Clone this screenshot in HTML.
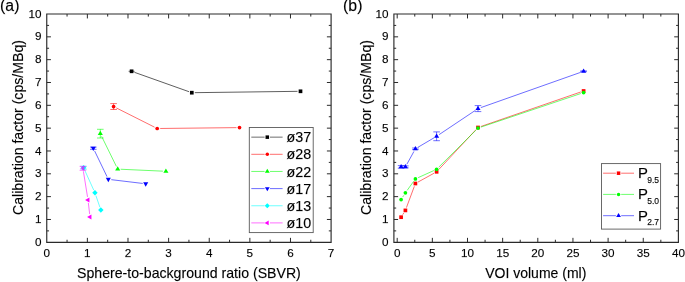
<!DOCTYPE html>
<html lang="en"><head><meta charset="utf-8"><title>Calibration factor</title>
<style>
html,body{margin:0;padding:0;background:#fff}
body{width:685px;height:282px;overflow:hidden}
svg{display:block}
text{font-family:"Liberation Sans", Arial, Helvetica, sans-serif;fill:#000;stroke:#000;stroke-width:0.25px;stroke-opacity:0.5}
.tk{font-size:11.7px}
.lb{font-size:14.13px}
.pn{font-size:15.8px}
.lg{font-size:14.3px}
.lgp{font-size:14.9px}
.sub{font-size:8.5px}
</style></head><body>
<svg width="685" height="282" viewBox="0 0 685 282">
<rect width="685" height="282" fill="#fff"/>
<g id="panel-a">
<text x="0.1" y="11.1" class="pn">(a)</text>
<path d="M46.75 14.0H331.1V242.3H46.75Z" fill="none" stroke="#2a2a2a" stroke-width="1.15" stroke-linejoin="miter"/>
<path d="M87.37 242.3v-4.45M87.37 14.0v4.45M127.99 242.3v-4.45M127.99 14.0v4.45M168.61 242.3v-4.45M168.61 14.0v4.45M209.24 242.3v-4.45M209.24 14.0v4.45M249.86 242.3v-4.45M249.86 14.0v4.45M290.48 242.3v-4.45M290.48 14.0v4.45M67.06 242.3v-2.55M67.06 14.0v2.55M107.68 242.3v-2.55M107.68 14.0v2.55M148.30 242.3v-2.55M148.30 14.0v2.55M188.93 242.3v-2.55M188.93 14.0v2.55M229.55 242.3v-2.55M229.55 14.0v2.55M270.17 242.3v-2.55M270.17 14.0v2.55M310.79 242.3v-2.55M310.79 14.0v2.55M46.75 219.47h4.2M331.1 219.47h-4.2M46.75 196.64h4.2M331.1 196.64h-4.2M46.75 173.81h4.2M331.1 173.81h-4.2M46.75 150.98h4.2M331.1 150.98h-4.2M46.75 128.15h4.2M331.1 128.15h-4.2M46.75 105.32h4.2M331.1 105.32h-4.2M46.75 82.49h4.2M331.1 82.49h-4.2M46.75 59.66h4.2M331.1 59.66h-4.2M46.75 36.83h4.2M331.1 36.83h-4.2M46.75 230.89h2.3M331.1 230.89h-2.3M46.75 208.06h2.3M331.1 208.06h-2.3M46.75 185.23h2.3M331.1 185.23h-2.3M46.75 162.40h2.3M331.1 162.40h-2.3M46.75 139.56h2.3M331.1 139.56h-2.3M46.75 116.73h2.3M331.1 116.73h-2.3M46.75 93.91h2.3M331.1 93.91h-2.3M46.75 71.07h2.3M331.1 71.07h-2.3M46.75 48.25h2.3M331.1 48.25h-2.3M46.75 25.41h2.3M331.1 25.41h-2.3" fill="none" stroke="#2a2a2a" stroke-width="1"/>
<text x="46.75" y="256.75" text-anchor="middle" class="tk">0</text>
<text x="87.37" y="256.75" text-anchor="middle" class="tk">1</text>
<text x="127.99" y="256.75" text-anchor="middle" class="tk">2</text>
<text x="168.61" y="256.75" text-anchor="middle" class="tk">3</text>
<text x="209.24" y="256.75" text-anchor="middle" class="tk">4</text>
<text x="249.86" y="256.75" text-anchor="middle" class="tk">5</text>
<text x="290.48" y="256.75" text-anchor="middle" class="tk">6</text>
<text x="331.10" y="256.75" text-anchor="middle" class="tk">7</text>
<text x="41.50" y="245.95" text-anchor="end" class="tk">0</text>
<text x="41.50" y="223.12" text-anchor="end" class="tk">1</text>
<text x="41.50" y="200.29" text-anchor="end" class="tk">2</text>
<text x="41.50" y="177.46" text-anchor="end" class="tk">3</text>
<text x="41.50" y="154.63" text-anchor="end" class="tk">4</text>
<text x="41.50" y="131.80" text-anchor="end" class="tk">5</text>
<text x="41.50" y="108.97" text-anchor="end" class="tk">6</text>
<text x="41.50" y="86.14" text-anchor="end" class="tk">7</text>
<text x="41.50" y="63.31" text-anchor="end" class="tk">8</text>
<text x="41.50" y="40.48" text-anchor="end" class="tk">9</text>
<text x="41.50" y="17.65" text-anchor="end" class="tk">10</text>
<text transform="translate(23.2,127.5) rotate(-90)" text-anchor="middle" class="lb">Calibration factor (cps/MBq)</text>
<text x="188.93" y="278.3" text-anchor="middle" class="lb">Sphere-to-background ratio (SBVR)</text>
<path d="M134.43 72.30L188.97 91.70M194.80 92.66L297.50 91.34" fill="none" stroke="#000" stroke-width="0.85" stroke-opacity="0.75"/>
<path d="M128.60 71.30H134.60" fill="none" stroke="#000" stroke-width="0.75" stroke-opacity="0.75"/>
<rect x="129.75" y="69.45" width="3.70" height="3.70" fill="#000"/>
<rect x="189.95" y="90.85" width="3.70" height="3.70" fill="#000"/>
<rect x="298.65" y="89.45" width="3.70" height="3.70" fill="#000"/>
<path d="M116.28 107.90L154.52 127.15M160.20 128.47L236.50 127.63" fill="none" stroke="#ff0000" stroke-width="0.85" stroke-opacity="0.68"/>
<path d="M113.60 103.60V109.50M110.30 103.60h6.6M110.30 109.50h6.6" fill="none" stroke="#ff0000" stroke-width="0.75" stroke-opacity="0.75"/>
<circle cx="113.60" cy="106.55" r="1.85" fill="#ff0000"/>
<circle cx="157.20" cy="128.50" r="1.85" fill="#ff0000"/>
<circle cx="239.50" cy="127.60" r="1.85" fill="#ff0000"/>
<path d="M101.62 136.34L116.38 166.41M120.70 169.24L162.90 171.16" fill="none" stroke="#00ff00" stroke-width="0.85" stroke-opacity="0.68"/>
<path d="M100.30 129.30V138.00M97.00 129.30h6.6M97.00 138.00h6.6" fill="none" stroke="#00ff00" stroke-width="0.75" stroke-opacity="0.75"/>
<path d="M100.30 130.75L102.82 135.10H97.78Z" fill="#00ff00"/>
<path d="M117.70 166.20L120.22 170.55H115.18Z" fill="#00ff00"/>
<path d="M165.90 168.40L168.42 172.75H163.38Z" fill="#00ff00"/>
<path d="M94.60 150.90L107.00 176.60M111.28 179.66L142.72 183.44" fill="none" stroke="#0000ff" stroke-width="0.85" stroke-opacity="0.68"/>
<path d="M93.30 147.10V149.30M90.00 147.10h6.6M90.00 149.30h6.6" fill="none" stroke="#0000ff" stroke-width="0.75" stroke-opacity="0.75"/>
<path d="M93.30 151.10L95.82 146.75H90.78Z" fill="#0000ff"/>
<path d="M108.30 182.20L110.82 177.85H105.78Z" fill="#0000ff"/>
<path d="M145.70 186.70L148.22 182.35H143.18Z" fill="#0000ff"/>
<path d="M84.84 170.43L93.71 190.07M95.92 195.64L99.88 207.21" fill="none" stroke="#00ffff" stroke-width="0.85" stroke-opacity="0.68"/>
<path d="M83.60 166.30V169.10M80.30 166.30h6.6M80.30 169.10h6.6" fill="none" stroke="#00ffff" stroke-width="0.75" stroke-opacity="0.75"/>
<path d="M83.60 165.00L86.30 167.70L83.60 170.40L80.90 167.70Z" fill="#00ffff"/>
<path d="M94.95 190.10L97.65 192.80L94.95 195.50L92.25 192.80Z" fill="#00ffff"/>
<path d="M100.85 207.35L103.55 210.05L100.85 212.75L98.15 210.05Z" fill="#00ffff"/>
<path d="M83.38 171.26L87.52 196.94M88.35 202.88L89.65 214.02" fill="none" stroke="#ff00ff" stroke-width="0.85" stroke-opacity="0.68"/>
<path d="M82.90 166.35V170.25M79.60 166.35h6.6M79.60 170.25h6.6" fill="none" stroke="#ff00ff" stroke-width="0.75" stroke-opacity="0.75"/>
<path d="M80.00 168.30L84.35 165.78V170.82Z" fill="#ff00ff" fill-opacity="0.6"/>
<path d="M85.10 199.90L89.45 197.38V202.42Z" fill="#ff00ff"/>
<path d="M87.10 217.00L91.45 214.48V219.52Z" fill="#ff00ff"/>
<rect x="249.3" y="127.5" width="63.90" height="105.10" fill="#fff" stroke="#5a5a5a" stroke-width="0.9"/>
<path d="M251.3 137.15H264.6M270 137.15H282.6" stroke="#000" stroke-width="0.85" stroke-opacity="0.68" fill="none"/>
<rect x="265.54" y="135.39" width="3.52" height="3.52" fill="#000"/>
<text x="286.6" y="142.25" class="lg">ø37</text>
<path d="M251.3 154.30H264.6M270 154.30H282.6" stroke="#ff0000" stroke-width="0.85" stroke-opacity="0.68" fill="none"/>
<circle cx="267.30" cy="154.30" r="1.76" fill="#ff0000"/>
<text x="286.6" y="159.40" class="lg">ø28</text>
<path d="M251.3 171.45H264.6M270 171.45H282.6" stroke="#00ff00" stroke-width="0.85" stroke-opacity="0.68" fill="none"/>
<path d="M267.30 168.69L269.70 172.83H264.90Z" fill="#00ff00"/>
<text x="286.6" y="176.55" class="lg">ø22</text>
<path d="M251.3 188.60H264.6M270 188.60H282.6" stroke="#0000ff" stroke-width="0.85" stroke-opacity="0.68" fill="none"/>
<path d="M267.30 191.35L269.70 187.22H264.90Z" fill="#0000ff"/>
<text x="286.6" y="193.70" class="lg">ø17</text>
<path d="M251.3 205.75H264.6M270 205.75H282.6" stroke="#00ffff" stroke-width="0.85" stroke-opacity="0.68" fill="none"/>
<path d="M267.30 203.19L269.87 205.75L267.30 208.31L264.74 205.75Z" fill="#00ffff"/>
<text x="286.6" y="210.85" class="lg">ø13</text>
<path d="M251.3 222.90H264.6M270 222.90H282.6" stroke="#ff00ff" stroke-width="0.85" stroke-opacity="0.68" fill="none"/>
<path d="M264.55 222.90L268.68 220.50V225.30Z" fill="#ff00ff"/>
<text x="286.6" y="228.00" class="lg">ø10</text>
</g>
<g id="panel-b">
<text x="343.1" y="11.2" class="pn">(b)</text>
<path d="M393.9 14.0H678.4V242.3H393.9Z" fill="none" stroke="#2a2a2a" stroke-width="1.15" stroke-linejoin="miter"/>
<path d="M397.20 242.3v-4.45M397.20 14.0v4.45M432.35 242.3v-4.45M432.35 14.0v4.45M467.50 242.3v-4.45M467.50 14.0v4.45M502.65 242.3v-4.45M502.65 14.0v4.45M537.80 242.3v-4.45M537.80 14.0v4.45M572.95 242.3v-4.45M572.95 14.0v4.45M608.10 242.3v-4.45M608.10 14.0v4.45M643.25 242.3v-4.45M643.25 14.0v4.45M414.77 242.3v-2.55M414.77 14.0v2.55M449.93 242.3v-2.55M449.93 14.0v2.55M485.07 242.3v-2.55M485.07 14.0v2.55M520.23 242.3v-2.55M520.23 14.0v2.55M555.38 242.3v-2.55M555.38 14.0v2.55M590.52 242.3v-2.55M590.52 14.0v2.55M625.67 242.3v-2.55M625.67 14.0v2.55M660.83 242.3v-2.55M660.83 14.0v2.55M393.9 219.47h4.2M678.4 219.47h-4.2M393.9 196.64h4.2M678.4 196.64h-4.2M393.9 173.81h4.2M678.4 173.81h-4.2M393.9 150.98h4.2M678.4 150.98h-4.2M393.9 128.15h4.2M678.4 128.15h-4.2M393.9 105.32h4.2M678.4 105.32h-4.2M393.9 82.49h4.2M678.4 82.49h-4.2M393.9 59.66h4.2M678.4 59.66h-4.2M393.9 36.83h4.2M678.4 36.83h-4.2M393.9 230.89h2.3M678.4 230.89h-2.3M393.9 208.06h2.3M678.4 208.06h-2.3M393.9 185.23h2.3M678.4 185.23h-2.3M393.9 162.40h2.3M678.4 162.40h-2.3M393.9 139.56h2.3M678.4 139.56h-2.3M393.9 116.73h2.3M678.4 116.73h-2.3M393.9 93.91h2.3M678.4 93.91h-2.3M393.9 71.07h2.3M678.4 71.07h-2.3M393.9 48.25h2.3M678.4 48.25h-2.3M393.9 25.41h2.3M678.4 25.41h-2.3" fill="none" stroke="#2a2a2a" stroke-width="1"/>
<text x="397.20" y="256.75" text-anchor="middle" class="tk">0</text>
<text x="432.35" y="256.75" text-anchor="middle" class="tk">5</text>
<text x="467.50" y="256.75" text-anchor="middle" class="tk">10</text>
<text x="502.65" y="256.75" text-anchor="middle" class="tk">15</text>
<text x="537.80" y="256.75" text-anchor="middle" class="tk">20</text>
<text x="572.95" y="256.75" text-anchor="middle" class="tk">25</text>
<text x="608.10" y="256.75" text-anchor="middle" class="tk">30</text>
<text x="643.25" y="256.75" text-anchor="middle" class="tk">35</text>
<text x="678.40" y="256.75" text-anchor="middle" class="tk">40</text>
<text x="388.60" y="245.95" text-anchor="end" class="tk">0</text>
<text x="388.60" y="223.12" text-anchor="end" class="tk">1</text>
<text x="388.60" y="200.29" text-anchor="end" class="tk">2</text>
<text x="388.60" y="177.46" text-anchor="end" class="tk">3</text>
<text x="388.60" y="154.63" text-anchor="end" class="tk">4</text>
<text x="388.60" y="131.80" text-anchor="end" class="tk">5</text>
<text x="388.60" y="108.97" text-anchor="end" class="tk">6</text>
<text x="388.60" y="86.14" text-anchor="end" class="tk">7</text>
<text x="388.60" y="63.31" text-anchor="end" class="tk">8</text>
<text x="388.60" y="40.48" text-anchor="end" class="tk">9</text>
<text x="388.60" y="17.65" text-anchor="end" class="tk">10</text>
<text transform="translate(370.5,127.5) rotate(-90)" text-anchor="middle" class="lb">Calibration factor (cps/MBq)</text>
<text x="535.75" y="278.3" text-anchor="middle" class="lb" style="font-size:14px">VOI volume (ml)</text>
<path d="M402.70 214.66L403.80 212.94M406.45 207.59L414.35 186.31M418.03 182.05L433.97 173.25M438.65 169.61L475.95 129.69M480.84 126.52L580.76 91.98" fill="none" stroke="#ff0000" stroke-width="0.85" stroke-opacity="0.68"/>
<rect x="399.25" y="215.35" width="3.70" height="3.70" fill="#ff0000"/>
<rect x="403.55" y="208.55" width="3.70" height="3.70" fill="#ff0000"/>
<rect x="413.55" y="181.65" width="3.70" height="3.70" fill="#ff0000"/>
<rect x="434.75" y="169.95" width="3.70" height="3.70" fill="#ff0000"/>
<rect x="476.15" y="125.65" width="3.70" height="3.70" fill="#ff0000"/>
<rect x="581.75" y="89.15" width="3.70" height="3.70" fill="#ff0000"/>
<path d="M402.70 197.06L403.80 195.34M407.15 190.36L413.65 181.34M418.13 177.66L433.87 170.54M438.73 167.18L475.87 130.22M480.84 127.14L580.76 93.56" fill="none" stroke="#00ff00" stroke-width="0.85" stroke-opacity="0.68"/>
<circle cx="401.10" cy="199.60" r="1.85" fill="#00ff00"/>
<circle cx="405.40" cy="192.80" r="1.85" fill="#00ff00"/>
<circle cx="415.40" cy="178.90" r="1.85" fill="#00ff00"/>
<circle cx="436.60" cy="169.30" r="1.85" fill="#00ff00"/>
<circle cx="478.00" cy="128.10" r="1.85" fill="#00ff00"/>
<circle cx="583.60" cy="92.60" r="1.85" fill="#00ff00"/>
<path d="M406.85 164.27L413.95 151.43M417.98 147.28L434.02 137.82M439.09 134.63L475.51 110.27M480.83 107.60L580.77 72.30" fill="none" stroke="#0000ff" stroke-width="0.85" stroke-opacity="0.68"/>
<path d="M401.10 165.60V168.20M397.80 165.60h6.6M397.80 168.20h6.6M405.40 165.90V167.90M402.10 165.90h6.6M402.10 167.90h6.6M415.40 148.00V149.60M412.10 148.00h6.6M412.10 149.60h6.6M436.60 131.90V140.70M433.30 131.90h6.6M433.30 140.70h6.6M478.00 105.60V111.60M474.70 105.60h6.6M474.70 111.60h6.6M583.60 70.90V71.70M580.30 70.90h6.6M580.30 71.70h6.6" fill="none" stroke="#0000ff" stroke-width="0.75" stroke-opacity="0.75"/>
<path d="M401.10 164.00L403.62 168.35H398.58Z" fill="#0000ff"/>
<path d="M405.40 164.00L407.92 168.35H402.88Z" fill="#0000ff"/>
<path d="M415.40 145.90L417.92 150.25H412.88Z" fill="#0000ff"/>
<path d="M436.60 133.40L439.12 137.75H434.08Z" fill="#0000ff"/>
<path d="M478.00 105.70L480.52 110.05H475.48Z" fill="#0000ff"/>
<path d="M583.60 68.40L586.12 72.75H581.08Z" fill="#0000ff"/>
<rect x="601.5" y="163.6" width="59.10" height="65.50" fill="#fff" stroke="#5a5a5a" stroke-width="0.9"/>
<path d="M603.1 173.20H615.9M621.2 173.20H634" stroke="#ff0000" stroke-width="0.85" stroke-opacity="0.68" fill="none"/>
<rect x="616.79" y="171.44" width="3.52" height="3.52" fill="#ff0000"/>
<text x="638" y="178.20" class="lgp">P<tspan class="sub" dx="-0.7" dy="4.6">9.5</tspan></text>
<path d="M603.1 194.40H615.9M621.2 194.40H634" stroke="#00ff00" stroke-width="0.85" stroke-opacity="0.68" fill="none"/>
<circle cx="618.55" cy="194.40" r="1.76" fill="#00ff00"/>
<text x="638" y="199.40" class="lgp">P<tspan class="sub" dx="-0.7" dy="4.6">5.0</tspan></text>
<path d="M603.1 215.70H615.9M621.2 215.70H634" stroke="#0000ff" stroke-width="0.85" stroke-opacity="0.68" fill="none"/>
<path d="M618.55 212.94L620.95 217.08H616.15Z" fill="#0000ff"/>
<text x="638" y="220.70" class="lgp">P<tspan class="sub" dx="-0.7" dy="4.6">2.7</tspan></text>
</g>
</svg>
</body></html>
